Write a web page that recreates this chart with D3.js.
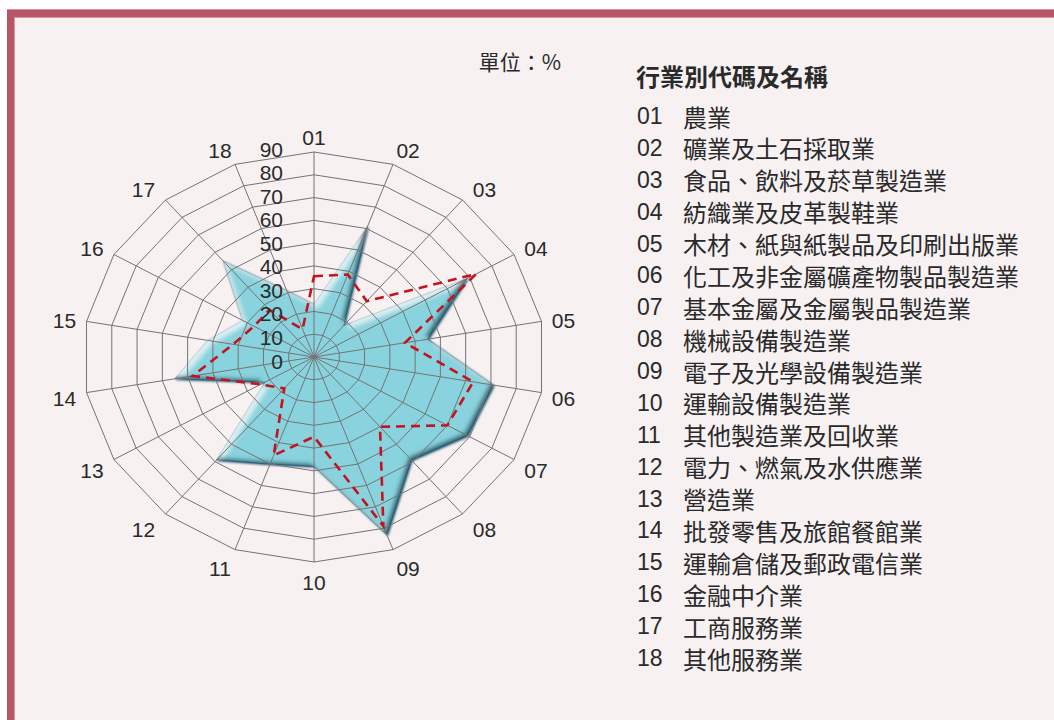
<!DOCTYPE html>
<html>
<head>
<meta charset="utf-8">
<script src="https://cdn.jsdelivr.net/npm/d3@7"></script>
<style>
  body { margin: 0; background: #fff; }
  svg { display: block; }
  text { font-family: "Liberation Sans", "Noto Sans CJK TC", sans-serif; fill: #2a2a2a; }
  .zh { font-family: "Noto Sans CJK TC", sans-serif; }
</style>
</head>
<body>
<svg id="chart" width="1054" height="720"></svg>
<script>
// category codes around the radar (clockwise from top)
var categories = ["01","02","03","04","05","06","07","08","09","10","11","12","13","14","15","16","17","18"];
// filled series
var seriesFill = [23, 61, 18, 69, 45, 71, 69, 59, 83, 48, 50, 59, 22, 55, 42, 32, 55, 31];
// dashed series
var seriesDash = [35.5, 38.5, 32, 73, 36, 63, 60, 40, 79, 35, 46, 18, 24, 48, 32, 27, 27, 13];
var tickValues = [0, 10, 20, 30, 40, 50, 60, 70, 80, 90];
var legendNames = ["農業", "礦業及土石採取業", "食品、飲料及菸草製造業", "紡織業及皮革製鞋業",
  "木材、紙與紙製品及印刷出版業", "化工及非金屬礦產物製品製造業", "基本金屬及金屬製品製造業",
  "機械設備製造業", "電子及光學設備製造業", "運輸設備製造業", "其他製造業及回收業",
  "電力、燃氣及水供應業", "營造業", "批發零售及旅館餐館業", "運輸倉儲及郵政電信業",
  "金融中介業", "工商服務業", "其他服務業"];

var svg = d3.select("#chart");

// frame
svg.append("rect").attr("x", 7).attr("y", 9).attr("width", 1047).attr("height", 711).attr("fill", "#b85566");
svg.append("rect").attr("x", 7).attr("y", 9).attr("width", 1047).attr("height", 1).attr("fill", "#d8909c");
svg.append("rect").attr("x", 14).attr("y", 17).attr("width", 1040).attr("height", 703).attr("fill", "#dc9aa6");
svg.append("rect").attr("x", 15).attr("y", 18).attr("width", 1039).attr("height", 702).attr("fill", "#f7f1f2");

var cx = 314, cy = 357;
var rx = d3.scaleLinear().domain([0, 90]).range([0, 231]);
var ry = d3.scaleLinear().domain([0, 90]).range([0, 205]);
var angle = d3.scaleLinear().domain([0, categories.length]).range([0, 2 * Math.PI]);

function pt(v, i) {
  var a = angle(i);
  return [cx + rx(v) * Math.sin(a), cy - ry(v) * Math.cos(a)];
}

// inner bevel: light band on upper-left edges, dark band on lower-right edges
var defs = svg.append("defs");
var f = defs.append("filter").attr("id", "bevel").attr("x", "-10%").attr("y", "-10%").attr("width", "120%").attr("height", "120%");
f.append("feGaussianBlur").attr("in", "SourceAlpha").attr("stdDeviation", 0.8).attr("result", "sharp");
f.append("feOffset").attr("in", "sharp").attr("dx", 0.8).attr("dy", 1.2).attr("result", "offDown");
f.append("feFlood").attr("flood-color", "#0a3a50").attr("flood-opacity", 0.8).attr("result", "dark");
f.append("feComposite").attr("in", "dark").attr("in2", "offDown").attr("operator", "in").attr("result", "shadow");
f.append("feGaussianBlur").attr("in", "SourceAlpha").attr("stdDeviation", 2.2).attr("result", "blur");
f.append("feOffset").attr("in", "blur").attr("dx", 4).attr("dy", 4).attr("result", "offHi");
f.append("feComposite").attr("in", "SourceAlpha").attr("in2", "offHi").attr("operator", "out").attr("result", "hiEdge");
f.append("feFlood").attr("flood-color", "#ffffff").attr("flood-opacity", 0.6).attr("result", "white");
f.append("feComposite").attr("in", "white").attr("in2", "hiEdge").attr("operator", "in").attr("result", "hi");
f.append("feOffset").attr("in", "blur").attr("dx", -3).attr("dy", -3).attr("result", "offLo");
f.append("feComposite").attr("in", "SourceAlpha").attr("in2", "offLo").attr("operator", "out").attr("result", "loEdge");
f.append("feFlood").attr("flood-color", "#0b3f58").attr("flood-opacity", 0.9).attr("result", "navy");
f.append("feComposite").attr("in", "navy").attr("in2", "loEdge").attr("operator", "in").attr("result", "lo");
var m = f.append("feMerge");
m.append("feMergeNode").attr("in", "shadow");
m.append("feMergeNode").attr("in", "SourceGraphic");
m.append("feMergeNode").attr("in", "hi");
m.append("feMergeNode").attr("in", "lo");

var line = d3.line().curve(d3.curveLinearClosed);

// filled area
svg.append("path")
  .attr("d", line(seriesFill.map(pt)))
  .attr("fill", "#89d3de")
  .attr("stroke", "#3b86a3")
  .attr("stroke-width", 0.8)
  .attr("filter", "url(#bevel)");

// grid rings and spokes
var grid = svg.append("g").attr("stroke", "#747474").attr("stroke-width", 1).attr("fill", "none");
grid.selectAll(".ring")
  .data(tickValues.slice(1)).enter().append("path")
  .attr("d", function(v) { return line(categories.map(function(c, i) { return pt(v, i); })); });
grid.selectAll(".spoke")
  .data(categories).enter().append("line")
  .attr("x1", cx).attr("y1", cy)
  .attr("x2", function(d, i) { return pt(90, i)[0]; })
  .attr("y2", function(d, i) { return pt(90, i)[1]; });

// dashed series
svg.append("path")
  .attr("d", line(seriesDash.map(pt)))
  .attr("fill", "none")
  .attr("stroke", "#c4121f")
  .attr("stroke-width", 2.6)
  .attr("stroke-dasharray", "9,6")
  .attr("stroke-linejoin", "miter")
  .attr("stroke-miterlimit", 10);

// tick labels
var tickY = d3.scaleLinear().domain([0, 90]).range([cy + 4, cy - 208]);
svg.selectAll(".tick")
  .data(tickValues).enter().append("text")
  .attr("x", 283)
  .attr("y", function(d) { return tickY(d); })
  .attr("text-anchor", "end")
  .attr("dominant-baseline", "central")
  .attr("font-size", 21)
  .text(function(d) { return d; });

// category labels
svg.selectAll(".cat")
  .data(categories).enter().append("text")
  .attr("x", function(d, i) {
    var s = Math.sin(angle(i));
    return pt(90, i)[0] + 22 * Math.sign(s) * Math.min(1, Math.abs(s) * 2);
  })
  .attr("y", function(d, i) { return pt(90, i)[1] + 2.5 - 17.5 * Math.cos(angle(i)); })
  .attr("text-anchor", "middle")
  .attr("dominant-baseline", "central")
  .attr("font-size", 21)
  .text(function(d) { return d; });

// unit
svg.append("text")
  .attr("class", "zh")
  .attr("x", 561).attr("y", 61)
  .attr("text-anchor", "end")
  .attr("dominant-baseline", "central")
  .attr("font-size", 21)
  .attr("fill", "#333")
  .text("單位：%");

// legend
svg.append("text")
  .attr("class", "zh")
  .attr("x", 636).attr("y", 75)
  .attr("dominant-baseline", "central")
  .attr("font-size", 24)
  .attr("font-weight", "bold")
  .text("行業別代碼及名稱");

var legY = d3.scaleLinear().domain([0, 17]).range([116, 658]);
var leg = svg.selectAll(".leg")
  .data(categories).enter().append("g")
  .attr("transform", function(d, i) { return "translate(0," + legY(i) + ")"; });
leg.append("text")
  .attr("x", 637).attr("dominant-baseline", "central")
  .attr("font-size", 23)
  .text(function(d) { return d; });
leg.append("text")
  .attr("class", "zh")
  .attr("x", 683).attr("dominant-baseline", "central")
  .attr("font-size", 24)
  .attr("fill", "#333")
  .text(function(d, i) { return legendNames[i]; });
</script>
</body>
</html>
